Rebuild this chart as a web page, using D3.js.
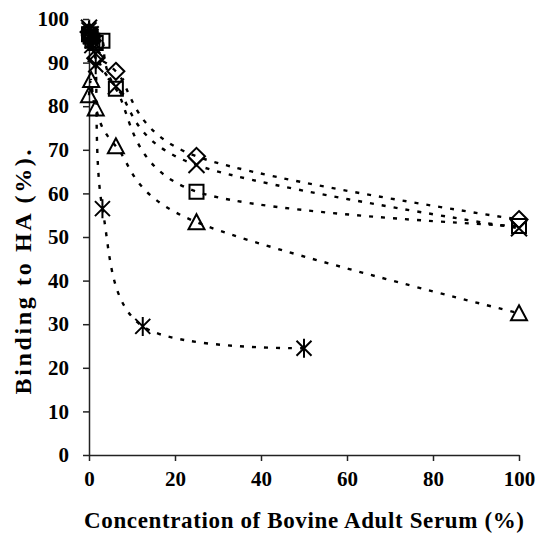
<!DOCTYPE html>
<html>
<head>
<meta charset="utf-8">
<script src="https://cdn.jsdelivr.net/npm/d3@7"></script>
<style>
  html, body { margin: 0; padding: 0; background: #fff; }
  svg { display: block; }
  text { font-family: "Liberation Serif", "Times New Roman", serif; font-weight: bold; fill: #000; }
</style>
</head>
<body>
<svg id="chart" width="537" height="536"></svg>
<script>
// Binding to HA (%) versus bovine adult serum concentration (%)
const xTicks = [0, 20, 40, 60, 80, 100];
const yTicks = [0, 10, 20, 30, 40, 50, 60, 70, 80, 90, 100];

const diamondX = [0, 0.39, 0.78, 1.56, 6.25, 25, 100];
const diamondY = [97, 96, 95, 91, 88, 68.5, 54];

const squareX = [0, 0.39, 0.78, 1.56, 3.125, 6.25, 25, 100];
const squareY = [96.5, 96, 95, 94.5, 95, 84, 60.4, 52.5];

const crossX = [0, 0.39, 0.78, 1.56, 6.25, 25, 100];
const crossY = [98, 96.5, 94, 92, 84.5, 66.5, 52];

const triangleX = [0, 0.5, 1.56, 6.25, 25, 100];
const triangleY = [82.5, 86, 79.5, 70.8, 53.4, 32.5];

const starX = [0, 0.39, 0.78, 1.56, 3.125, 12.5, 50];
const starY = [97.5, 96, 95, 89.5, 56.5, 29.5, 24.5];

const xTitle = "Concentration of Bovine Adult Serum (%)";
const yTitle = "Binding to HA (%).";

const series = [
  { marker: "diamond", xs: diamondX, ys: diamondY },
  { marker: "square", xs: squareX, ys: squareY },
  { marker: "cross", xs: crossX, ys: crossY },
  { marker: "triangle", xs: triangleX, ys: triangleY },
  { marker: "star", xs: starX, ys: starY }
];

const svg = d3.select("#chart");
const x = d3.scaleLinear().domain([0, 100]).range([89, 519]);
const y = d3.scaleLinear().domain([0, 100]).range([455, 19]);

// axes
const axisColor = "#222";
const xAxis = svg.append("g")
  .attr("transform", `translate(0,${y(0)})`)
  .call(d3.axisBottom(x).tickValues(xTicks).tickSize(6).tickPadding(10).tickSizeOuter(0));
const yAxis = svg.append("g")
  .attr("transform", `translate(${x(0)},0)`)
  .call(d3.axisLeft(y).tickValues(yTicks).tickSize(6).tickPadding(14).tickSizeOuter(0));

[xAxis, yAxis].forEach(g => {
  g.select(".domain").attr("stroke", axisColor).attr("stroke-width", 1.5);
  g.selectAll(".tick line").attr("stroke", axisColor).attr("stroke-width", 1.5);
  g.selectAll(".tick text")
    .attr("fill", "#000")
    .style("font-family", '"Liberation Serif", "Times New Roman", serif')
    .style("font-weight", "bold")
    .style("font-size", "21px");
});

// axis titles
svg.append("text")
  .attr("x", 304).attr("y", 528)
  .attr("text-anchor", "middle")
  .attr("textLength", 440).attr("lengthAdjust", "spacing")
  .style("font-size", "23px")
  .text(xTitle);

svg.append("text")
  .attr("transform", "translate(31,272) rotate(-90)")
  .attr("text-anchor", "middle")
  .attr("textLength", 245).attr("lengthAdjust", "spacing")
  .style("font-size", "24px")
  .text(yTitle);

// smoothed dotted lines
const line = d3.line()
  .x(d => x(d[0]))
  .y(d => y(d[1]))
  .curve(d3.curveCardinal.tension(0));

const plot = svg.append("g");
series.forEach(s => {
  const pts = s.xs.map((v, i) => [v, s.ys[i]]);
  plot.append("path")
    .attr("d", line(pts))
    .attr("fill", "none")
    .attr("stroke", "#000")
    .attr("stroke-width", 2.4)
    .attr("stroke-dasharray", "4 8");
});

// marker shapes
function markerPath(type) {
  switch (type) {
    case "diamond": return "M0,-8.5L8.5,0L0,8.5L-8.5,0Z";
    case "square": return "M-7,-7H7V7H-7Z";
    case "triangle": return "M0,-8L8,7H-8Z";
    case "cross": return "M-8,-8L8,8M8,-8L-8,8";
    case "star": return "M-7.5,-7.5L7.5,7.5M7.5,-7.5L-7.5,7.5M0,-9.5V9.5";
  }
}

series.forEach(s => {
  plot.selectAll(null)
    .data(s.xs.map((v, i) => [v, s.ys[i]]))
    .enter().append("path")
    .attr("transform", d => `translate(${x(d[0])},${y(d[1])})`)
    .attr("d", markerPath(s.marker))
    .attr("fill", "none")
    .attr("stroke", "#000")
    .attr("stroke-width", 2);
});
</script>
</body>
</html>
